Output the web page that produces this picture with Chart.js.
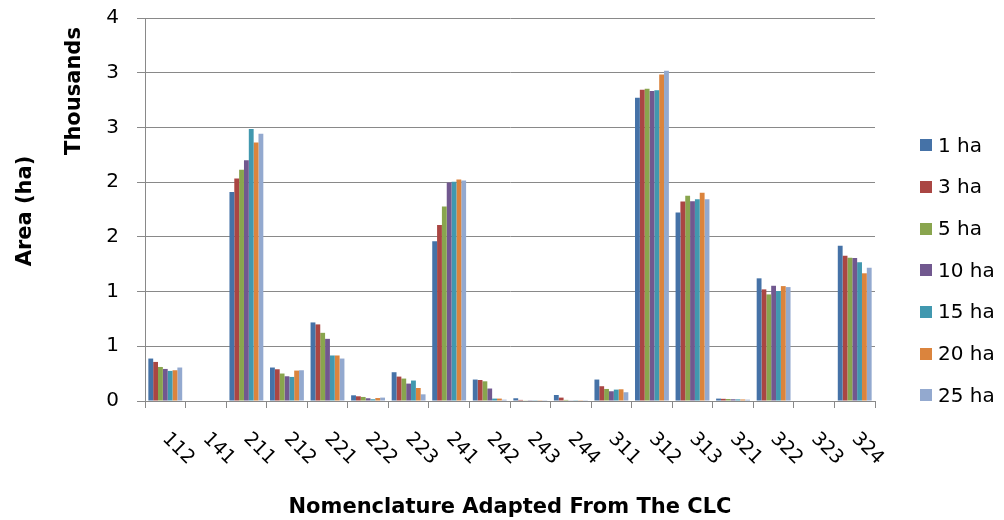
<!DOCTYPE html>
<html>
<head>
<meta charset="utf-8">
<script src="https://cdn.jsdelivr.net/npm/chart.js@4.4.1/dist/chart.umd.min.js"></script>
<style>
  html, body { margin: 0; padding: 0; background: #ffffff; }
  #wrap { width: 1004px; height: 520px; }
</style>
</head>
<body>
<div id="wrap"><canvas id="c" width="1004" height="520"></canvas></div>
<script>
const categories = ['112','141','211','212','221','222','223','241','242','243','244','311','312','313','321','322','323','324'];
const seriesNames = ['1 ha','3 ha','5 ha','10 ha','15 ha','20 ha','25 ha'];
const s1ha  = [388, 0, 1911, 306, 718, 52, 263, 1460, 196, 25, 55, 196, 2772, 1722, 22, 1121, 0, 1419];
const s3ha  = [357, 0, 2033, 290, 700, 43, 223, 1609, 192, 10, 31, 135, 2845, 1822, 20, 1020, 0, 1328];
const s5ha  = [311, 0, 2113, 251, 623, 37, 205, 1777, 180, 3, 10, 110, 2854, 1875, 18, 974, 0, 1310];
const s10ha = [293, 0, 2201, 226, 568, 25, 159, 1996, 114, 2, 3, 89, 2833, 1826, 16, 1053, 0, 1307];
const s15ha = [275, 0, 2485, 220, 416, 16, 187, 2003, 22, 2, 2, 104, 2839, 1844, 15, 1005, 0, 1267];
const s20ha = [281, 0, 2363, 278, 416, 27, 119, 2024, 22, 2, 2, 107, 2983, 1902, 14, 1050, 0, 1167];
const s25ha = [306, 0, 2442, 281, 388, 31, 61, 2015, 12, 2, 2, 80, 3019, 1844, 12, 1041, 0, 1218];
const yTickValues = [0, 500, 1000, 1500, 2000, 2500, 3000, 3500];
const yTitle = 'Area (ha)';
const yUnitTitle = 'Thousands';
const xTitle = 'Nomenclature Adapted From The CLC';

const colors = ['#4572A7','#AA4643','#89A54E','#71588F','#4198AF','#DB843D','#93A9CF'];
const seriesValues = [s1ha, s3ha, s5ha, s10ha, s15ha, s20ha, s25ha];
const gridColor = '#898989';

const datasets = seriesValues.map((vals, i) => ({
  label: seriesNames[i],
  data: vals,
  backgroundColor: colors[i],
  borderWidth: 0,
  categoryPercentage: 0.835,
  barPercentage: 1.0
}));

const decorPlugin = {
  id: 'decor',
  afterDraw(chart) {
    const ctx = chart.ctx;
    const xs = chart.scales.x;
    ctx.save();
    ctx.fillStyle = '#000000';
    // x tick labels, rotated 45deg clockwise
    ctx.font = '19px "DejaVu Sans"';
    ctx.textAlign = 'left';
    ctx.textBaseline = 'middle';
    categories.forEach((lab, i) => {
      const px = xs.getPixelForTick(i);
      ctx.save();
      ctx.translate(px, 436);
      ctx.rotate(Math.PI / 4);
      ctx.fillText(lab, 0, 0);
      ctx.restore();
    });
    // axis titles
    ctx.font = 'bold 21px "DejaVu Sans"';
    ctx.textAlign = 'center';
    ctx.textBaseline = 'alphabetic';
    ctx.fillText(xTitle, 510, 513);
    ctx.save();
    ctx.translate(80, 91);
    ctx.rotate(-Math.PI / 2);
    ctx.fillText(yUnitTitle, 0, 0);
    ctx.restore();
    ctx.save();
    ctx.translate(30.5, 211);
    ctx.rotate(-Math.PI / 2);
    ctx.fillText(yTitle, 0, 0);
    ctx.restore();
    // legend
    ctx.font = '20px "DejaVu Sans"';
    ctx.textAlign = 'left';
    ctx.textBaseline = 'middle';
    chart.data.datasets.forEach((ds, i) => {
      const cy = 145.3 + i * 41.67;
      ctx.fillStyle = ds.backgroundColor;
      ctx.fillRect(920, Math.round(cy - 6), 12, 12);
      ctx.fillStyle = '#000000';
      ctx.fillText(ds.label, 938, cy + 1);
    });
    ctx.restore();
  }
};

new Chart(document.getElementById('c'), {
  type: 'bar',
  data: { labels: categories, datasets: datasets },
  options: {
    responsive: false,
    animation: false,
    devicePixelRatio: 1,
    layout: { padding: { top: 18, right: 129, left: 0, bottom: 0 } },
    plugins: { legend: { display: false }, tooltip: { enabled: false }, title: { display: false } },
    scales: {
      x: {
        afterFit(scale) { scale.height = 119; scale.paddingLeft = 0; scale.paddingRight = 0; },
        ticks: { display: false },
        grid: { display: true, offset: true, drawOnChartArea: false, drawTicks: true, tickLength: 7, color: gridColor, lineWidth: 1 },
        border: { display: true, color: gridColor, width: 1 }
      },
      y: {
        min: 0,
        max: 3500,
        afterFit(scale) { scale.width = 145; scale.paddingTop = 10; scale.paddingBottom = 10; },
        afterBuildTicks(scale) { scale.ticks = yTickValues.map(v => ({ value: v })); },
        ticks: {
          padding: 18,
          color: '#000000',
          font: { family: '"DejaVu Sans"', size: 20 },
          callback: (v) => String(Math.round(v / 1000))
        },
        grid: { color: gridColor, lineWidth: 1, tickLength: 8, drawTicks: true },
        border: { display: true, color: gridColor, width: 1 }
      }
    }
  },
  plugins: [decorPlugin]
});
</script>
</body>
</html>
